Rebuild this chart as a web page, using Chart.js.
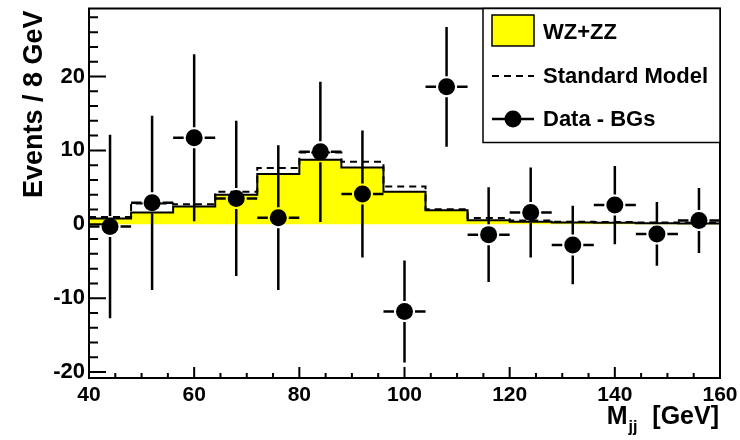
<!DOCTYPE html>
<html>
<head>
<meta charset="utf-8">
<script src="https://cdn.jsdelivr.net/npm/chart.js@4.4.0/dist/chart.umd.min.js"></script>
<style>
  html, body { margin: 0; padding: 0; background: #fff; }
</style>
</head>
<body>
<canvas id="mjj" width="740" height="440"></canvas>
<script>
// bin edges of the dijet mass histogram (8 GeV bins)
var binEdges = [40, 48, 56, 64, 72, 80, 88, 96, 104, 112, 120, 128, 136, 144, 152, 160];
// expected WZ+ZZ per bin
var wzzz = [0.8, 1.6, 2.4, 4.0, 6.8, 8.75, 7.7, 4.4, 1.9, 0.55, 0.35, 0.25, 0.2, 0.15, 0.1];
// full Standard Model expectation per bin
var stdModel = [1.0, 2.8, 2.7, 4.4, 7.6, 9.7, 8.45, 5.1, 2.05, 0.85, 0.5, 0.35, 0.3, 0.25, 0.2];
// data minus backgrounds at bin centres, with errors
var binCentres = [44, 52, 60, 68, 76, 84, 92, 100, 108, 116, 124, 132, 140, 148, 156];
var dataMinusBg = [-0.3, 2.9, 11.7, 3.5, 0.9, 9.8, 4.1, -11.8, 18.6, -1.4, 1.6, -2.8, 2.6, -1.3, 0.5];
var dataErr = [12.4, 11.8, 11.3, 10.5, 9.8, 9.5, 8.6, 6.9, 8.1, 6.4, 6.1, 5.3, 5.3, 4.3, 4.4];
var xTicks = [40, 60, 80, 100, 120, 140, 160];
var yTicks = [-20, -10, 0, 10, 20];

var FONT = '"Liberation Sans", Arial, Helvetica, sans-serif';

// one point per bin edge, held flat until the next edge
function steps(vals) {
  var pts = [];
  for (var i = 0; i < vals.length; i++) pts.push({x: binEdges[i], y: vals[i]});
  pts.push({x: binEdges[binEdges.length - 1], y: vals[vals.length - 1]});
  return pts;
}

var points = [];
for (var i = 0; i < binCentres.length; i++) points.push({x: binCentres[i], y: dataMinusBg[i]});

// frame, inward ticks, error bars, axis titles and legend
var rootStyle = {
  id: 'rootStyle',
  afterDatasetsDraw: function(chart) {
    var ctx = chart.ctx, xs = chart.scales.x, ys = chart.scales.y;
    ctx.save();
    ctx.strokeStyle = '#000';
    ctx.lineWidth = 2.5;
    var r = 8.5;
    for (var i = 0; i < binCentres.length; i++) {
      var px = xs.getPixelForValue(binCentres[i]);
      var py = ys.getPixelForValue(dataMinusBg[i]);
      var top = ys.getPixelForValue(dataMinusBg[i] + dataErr[i]);
      var bot = ys.getPixelForValue(dataMinusBg[i] - dataErr[i]);
      var lx = xs.getPixelForValue(binCentres[i] - 4);
      var rx = xs.getPixelForValue(binCentres[i] + 4);
      ctx.beginPath();
      if (top < py - r - 2) { ctx.moveTo(px, top); ctx.lineTo(px, py - r - 2); }
      if (bot > py + r + 2) { ctx.moveTo(px, py + r + 2); ctx.lineTo(px, bot); }
      ctx.moveTo(lx, py); ctx.lineTo(px - r - 2, py);
      ctx.moveTo(px + r + 2, py); ctx.lineTo(rx, py);
      ctx.stroke();
    }
    ctx.restore();
  },
  afterDraw: function(chart) {
    var ctx = chart.ctx, a = chart.chartArea, xs = chart.scales.x, ys = chart.scales.y;
    ctx.save();
    ctx.strokeStyle = '#000';
    ctx.lineWidth = 2;
    ctx.strokeRect(a.left, a.top, a.right - a.left, a.bottom - a.top);

    ctx.beginPath();
    for (var v = -20; v <= 28; v += 2) {
      var y = ys.getPixelForValue(v);
      ctx.moveTo(a.left, y);
      ctx.lineTo(a.left + (v % 10 === 0 ? 17 : 9), y);
    }
    for (var g = 40; g <= 160; g += 5) {
      var x = xs.getPixelForValue(g);
      ctx.moveTo(x, a.bottom);
      ctx.lineTo(x, a.bottom - (g % 20 === 0 ? 11 : 5));
    }
    ctx.stroke();

    // y title
    ctx.fillStyle = '#000';
    ctx.save();
    ctx.translate(42, a.top + 2);
    ctx.rotate(-Math.PI / 2);
    ctx.font = 'bold 27px ' + FONT;
    ctx.textAlign = 'right';
    ctx.textBaseline = 'alphabetic';
    ctx.fillText('Events / 8 GeV', 0, 0);
    ctx.restore();

    // x title: M_jj [GeV], right-aligned under the axis end
    ctx.textBaseline = 'alphabetic';
    ctx.textAlign = 'left';
    ctx.font = 'bold 25px ' + FONT;
    var unit = '  [GeV]';
    var wUnit = ctx.measureText(unit).width;
    var wM = ctx.measureText('M').width;
    ctx.font = 'bold 16px ' + FONT;
    var wSub = ctx.measureText('jj').width;
    var xr = 719, base = 424;
    var x0 = xr - wUnit - wSub - wM - 2;
    ctx.font = 'bold 25px ' + FONT;
    ctx.fillText('M', x0, base);
    ctx.fillText(unit, x0 + wM + wSub + 2, base);
    ctx.font = 'bold 16px ' + FONT;
    ctx.fillText('jj', x0 + wM + 1, base + 8);

    // legend
    var lx = 483, ly = a.top, lw = a.right - lx, lh = 134;
    ctx.fillStyle = '#fff';
    ctx.fillRect(lx, ly, lw, lh);
    ctx.lineWidth = 1.5;
    ctx.strokeRect(lx, ly, lw, lh);
    ctx.fillStyle = '#ffff00';
    ctx.fillRect(492, 15, 42, 31);
    ctx.strokeRect(492, 15, 42, 31);
    ctx.lineWidth = 2;
    ctx.setLineDash([7, 5]);
    ctx.beginPath();
    ctx.moveTo(492, 76); ctx.lineTo(534, 76);
    ctx.stroke();
    ctx.setLineDash([]);
    ctx.lineWidth = 2.5;
    ctx.beginPath();
    ctx.moveTo(492, 119); ctx.lineTo(534, 119);
    ctx.stroke();
    ctx.fillStyle = '#000';
    ctx.beginPath();
    ctx.arc(513, 119, 8.5, 0, Math.PI * 2);
    ctx.fill();
    ctx.font = 'bold 22px ' + FONT;
    ctx.textBaseline = 'middle';
    ctx.fillText('WZ+ZZ', 543, 33);
    ctx.fillText('Standard Model', 543, 77);
    ctx.fillText('Data - BGs', 543, 120);
    ctx.restore();
  }
};

var chart = new Chart(document.getElementById('mjj'), {
  type: 'line',
  data: {
    datasets: [
      {
        label: 'WZ+ZZ',
        data: steps(wzzz),
        stepped: 'before',
        fill: 'origin',
        backgroundColor: '#ffff00',
        borderColor: '#000',
        borderWidth: 2,
        pointRadius: 0,
        order: 3
      },
      {
        label: 'Standard Model',
        data: steps(stdModel),
        stepped: 'before',
        fill: false,
        borderColor: '#000',
        borderWidth: 2,
        borderDash: [7, 5],
        pointRadius: 0,
        order: 2
      },
      {
        label: 'Data - BGs',
        data: points,
        showLine: false,
        pointRadius: 8.5,
        pointBackgroundColor: '#000',
        pointBorderColor: '#000',
        pointBorderWidth: 0,
        order: 1
      }
    ]
  },
  options: {
    responsive: false,
    devicePixelRatio: 1,
    animation: false,
    layout: { padding: { top: 8, right: 20, left: 0, bottom: 0 } },
    plugins: { legend: { display: false }, tooltip: { enabled: false } },
    scales: {
      x: {
        type: 'linear',
        min: 40,
        max: 160,
        grid: { display: false, drawTicks: false },
        border: { display: false },
        afterBuildTicks: function(s) { s.ticks = xTicks.map(function(v) { return {value: v}; }); },
        afterFit: function(s) { s.height = 62; s.paddingLeft = 0; s.paddingRight = 0; },
        ticks: { color: '#000', font: { family: FONT, size: 21, weight: 'bold' }, padding: 5, maxRotation: 0 }
      },
      y: {
        min: -20.8,
        max: 29.2,
        grid: { display: false, drawTicks: false },
        border: { display: false },
        afterBuildTicks: function(s) { s.ticks = yTicks.map(function(v) { return {value: v}; }); },
        afterFit: function(s) { s.width = 89; s.paddingTop = 0; s.paddingBottom = 0; },
        ticks: { color: '#000', font: { family: FONT, size: 22, weight: 'bold' }, padding: 4 }
      }
    }
  },
  plugins: [rootStyle]
});
</script>
</body>
</html>
